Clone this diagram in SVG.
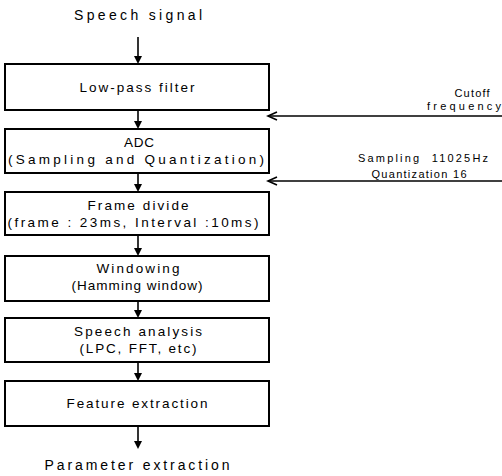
<svg xmlns="http://www.w3.org/2000/svg" width="502" height="476" viewBox="0 0 502 476">
<style>
.box{fill:#fff;stroke:#000;stroke-width:2}
.t{font-family:"Liberation Sans",Arial,sans-serif;font-size:13.5px;fill:#000;text-anchor:middle}
.big{font-size:14px}
.s{font-size:11px}
.c{stroke:#000;stroke-width:1.6;fill:none}
</style>
<rect width="502" height="476" fill="#fff"/>
<text class="t big" x="138" y="20" textLength="128" lengthAdjust="spacing">Speech signal</text>
<g id="connectors">
<line class="c" x1="138" y1="37" x2="138" y2="56"/>
<path d="M134,56 L142,56 L138,64 Z"/>
<line class="c" x1="138" y1="110" x2="138" y2="121"/>
<path d="M134,121 L142,121 L138,129 Z"/>
<line class="c" x1="138" y1="173" x2="138" y2="184"/>
<path d="M134,184 L142,184 L138,192 Z"/>
<line class="c" x1="138" y1="235" x2="138" y2="248"/>
<path d="M134,248 L142,248 L138,256 Z"/>
<line class="c" x1="138" y1="301" x2="138" y2="310"/>
<path d="M134,310 L142,310 L138,318 Z"/>
<line class="c" x1="138" y1="362" x2="138" y2="373"/>
<path d="M134,373 L142,373 L138,381 Z"/>
<line class="c" x1="138" y1="426" x2="138" y2="441"/>
<path d="M134,441 L142,441 L138,449 Z"/>
<line class="c" x1="502" y1="116" x2="268" y2="116"/>
<polyline class="c" points="277,112 268,116 277,120"/>
<line class="c" x1="502" y1="181" x2="268" y2="181"/>
<polyline class="c" points="277,177 268,181 277,185"/>
</g>
<g id="n1"><rect class="box" x="5" y="64" width="264" height="46"/>
<text class="t" x="137" y="92" textLength="115" lengthAdjust="spacing">Low-pass filter</text></g>
<g id="n2"><rect class="box" x="5" y="129" width="264" height="44"/>
<text class="t" x="139" y="147" textLength="30" lengthAdjust="spacing">ADC</text>
<text class="t" x="136" y="164" textLength="256" lengthAdjust="spacing">(Sampling and Quantization)</text></g>
<g id="n3"><rect class="box" x="5" y="192" width="264" height="43"/>
<text class="t" x="138" y="210" textLength="101" lengthAdjust="spacing">Frame divide</text>
<text class="t" x="133" y="227" textLength="251" lengthAdjust="spacing">(frame : 23ms, Interval :10ms)</text></g>
<g id="n4"><rect class="box" x="5" y="256" width="264" height="45"/>
<text class="t" x="138" y="273" textLength="83" lengthAdjust="spacing">Windowing</text>
<text class="t" x="137" y="290" textLength="131" lengthAdjust="spacing">(Hamming window)</text></g>
<g id="n5"><rect class="box" x="5" y="318" width="264" height="44"/>
<text class="t" x="138" y="336" textLength="128" lengthAdjust="spacing">Speech analysis</text>
<text class="t" x="138" y="353" textLength="117" lengthAdjust="spacing">(LPC, FFT, etc)</text></g>
<g id="n6"><rect class="box" x="5" y="381" width="264" height="45"/>
<text class="t" x="137" y="408" textLength="141" lengthAdjust="spacing">Feature extraction</text></g>
<text class="t big" x="137" y="470" textLength="185" lengthAdjust="spacing">Parameter extraction</text>
<g id="labels">
<text class="t s" x="472" y="97" textLength="35" lengthAdjust="spacing">Cutoff</text>
<text class="t s" x="464" y="110" textLength="74" lengthAdjust="spacing">frequency</text>
<text class="t s" x="423" y="162" textLength="130" lengthAdjust="spacing" style="white-space:pre">Sampling  11025Hz</text>
<text class="t s" x="419" y="178" textLength="95" lengthAdjust="spacing">Quantization 16</text>
</g>
</svg>
